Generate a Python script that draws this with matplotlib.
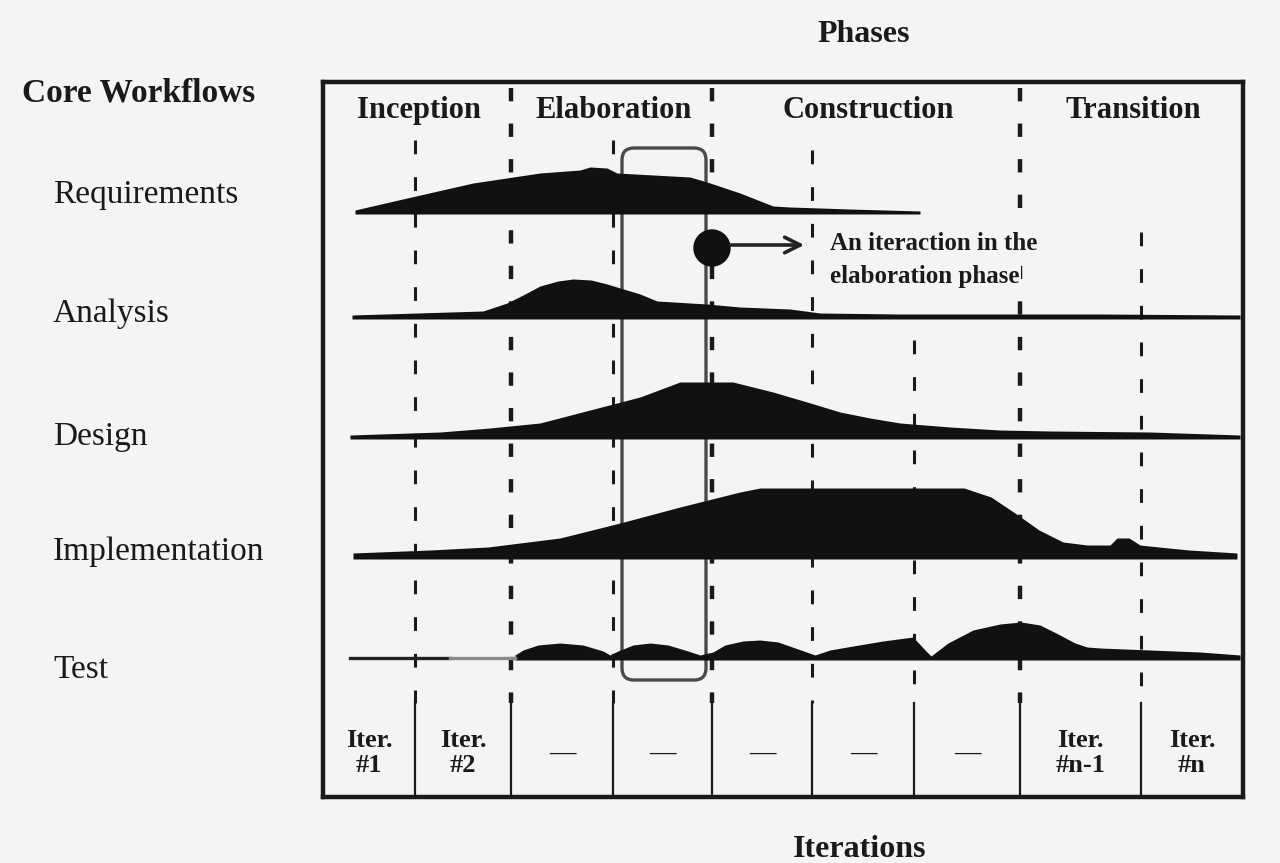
import numpy as np
import matplotlib.pyplot as plt
from matplotlib.patches import FancyBboxPatch, Circle

plt.rcParams['font.family'] = ['Liberation Serif', 'DejaVu Serif']

# 数据：阶段、工作流、迭代
phases = ['Inception', 'Elaboration', 'Construction', 'Transition']
workflows = ['Requirements', 'Analysis', 'Design', 'Implementation', 'Test']
iter_labels = ['Iter.\n#1', 'Iter.\n#2', '—', '—', '—', '—', '—', 'Iter.\n#n-1', 'Iter.\n#n']

# 时间轴上的迭代边界（时间轴单位），以及阶段边界在其中的序号
iter_edges = [0, 92, 188, 290, 389, 489, 591, 697, 818, 920]
phase_edge_idx = [0, 2, 4, 7, 9]

# 各工作流的工作量曲线（时间点，工作量）
req_t = [32, 84, 150, 217, 257, 267, 284, 294, 367, 384, 417, 450, 467, 527, 597]
req_h = [2, 14, 29, 39, 42, 45, 44, 39, 35, 30, 19, 6, 5, 3, 1]

ana_t = [29, 160, 184, 200, 217, 235, 250, 268, 284, 317, 334, 384, 417, 467, 497, 577, 677, 777, 917]
ana_h = [2, 6, 14, 22, 31, 36, 38, 37, 33, 23, 16, 13, 10, 8, 4, 3, 3, 3, 2]

des_t = [27, 117, 167, 217, 267, 317, 357, 410, 450, 484, 517, 547, 577, 627, 677, 727, 827, 917]
des_h = [2, 5, 9, 14, 27, 40, 55, 55, 45, 35, 25, 19, 14, 10, 7, 6, 5, 2]

imp_t = [30, 107, 165, 237, 297, 357, 417, 437, 641, 668, 692, 716, 740, 764, 787, 794, 806,
         817, 836, 866, 914]
imp_h = [4, 7, 10, 19, 34, 50, 65, 69, 69, 60, 44, 27, 15, 12, 12, 19, 19, 12, 10, 7, 4]

test_t = [192, 200, 215, 237, 260, 280, 287, 295, 310, 327, 345, 365, 377, 390, 402, 420, 437,
          455, 475, 492, 507, 530, 560, 590, 602, 608, 625, 650, 677, 698, 717, 735, 752, 764,
          777, 877, 917]
test_h = [3, 8, 13, 15, 13, 7, 3, 7, 13, 15, 13, 7, 3, 6, 13, 17, 18, 16, 9, 3, 8, 12, 17, 21,
          8, 2, 15, 28, 34, 36, 33, 24, 15, 11, 10, 6, 3]
test_lead_t = [27, 127, 192]

curves = [(req_t, req_h), (ana_t, ana_h), (des_t, des_h), (imp_t, imp_h), (test_t, test_h)]

# 布局（像素）
BG = '#f4f4f4'
INK = '#1a1a1a'
row_base = [130, 235, 355, 475, 576]
label_base = [203, 322, 445, 560, 678]
BOX_L, BOX_T, BOX_W, BOX_H = 323, 82, 920, 715
ROW_TOP = 621

fig = plt.figure(figsize=(12.8, 8.63), dpi=100, facecolor=BG)

# 背景画布，用于框外的文字
bg = fig.add_axes([0, 0, 1, 1])
bg.set_xlim(0, 1280)
bg.set_ylim(863, 0)
bg.axis('off')
bg.set_facecolor(BG)

bg.text(864, 42, 'Phases', fontsize=23, fontweight='bold', ha='center', va='baseline', color=INK)
bg.text(860, 857, 'Iterations', fontsize=23, fontweight='bold', ha='center', va='baseline', color=INK)
bg.text(22, 102, 'Core Workflows', fontsize=24, fontweight='bold', ha='left', va='baseline', color=INK)
for name, yb in zip(workflows, label_base):
    bg.text(53, yb, name, fontsize=24, ha='left', va='baseline', color=INK)

# 主框
ax = fig.add_axes([BOX_L / 1280, 1 - (BOX_T + BOX_H) / 863, BOX_W / 1280, BOX_H / 863])
ax.set_xlim(0, BOX_W)
ax.set_ylim(BOX_H, 0)
ax.set_facecolor(BG)
ax.set_xticks([])
ax.set_yticks([])
for s in ax.spines.values():
    s.set_linewidth(3.2)
    s.set_color(INK)

# 阶段标题
for i, name in enumerate(phases):
    a, b = iter_edges[phase_edge_idx[i]], iter_edges[phase_edge_idx[i + 1]]
    ax.text((a + b) / 2 + 2, 36, name, fontsize=22, fontweight='bold', ha='center', va='baseline', color=INK)

# 虚线：阶段边界（粗）和迭代边界（细）
inner = iter_edges[1:-1]
phase_x = [iter_edges[k] for k in phase_edge_idx[1:-1]]
line_top = {92: 58, 290: 58, 489: 68, 591: 258, 818: 150}
for x in inner:
    if x in phase_x:
        ln, = ax.plot([x, x], [6, ROW_TOP], color=INK, lw=3.2, zorder=2)
        ln.set_dashes((3, 5))
    else:
        ln, = ax.plot([x, x], [line_top[x], ROW_TOP], color=INK, lw=2.2, zorder=2)
        ln.set_dashes((4.5, 7.5))
    # 迭代行中的实线
    ax.plot([x, x], [ROW_TOP, BOX_H], color=INK, lw=1.6, zorder=2)

# 高亮的一个迭代
hl = FancyBboxPatch((299, 66), 84, 532, boxstyle='round,pad=0,rounding_size=12',
                    fill=False, ec='#4a4a4a', lw=2.4, zorder=3)
ax.add_patch(hl)

# 工作流曲线
for (t, h), base in zip(curves, row_base):
    t = np.array(t)
    h = np.array(h)
    ax.fill_between(t, base + 2, base - h, color='#111111', lw=0, zorder=4)

# 测试行前面的细线
ax.plot(test_lead_t[:2], [row_base[4]] * 2, color='#222222', lw=2.4, zorder=4)
ax.plot(test_lead_t[1:], [row_base[4]] * 2, color='#8a8a8a', lw=2.4, zorder=4)

# 标注：圆点 + 箭头 + 文字
ax.add_patch(Circle((389, 166), 18, color='#111111', zorder=5))
ax.annotate('', xy=(484, 163), xytext=(405, 163),
            arrowprops=dict(arrowstyle='->', lw=2.6, color='#222222', mutation_scale=28), zorder=5)
note_box = dict(boxstyle='square,pad=0.05', fc=BG, ec='none')
ax.text(507, 161, 'An iteraction in the', fontsize=18, fontweight='bold', ha='left', va='center',
        color=INK, bbox=note_box, zorder=6)
ax.text(507, 194, 'elaboration phase', fontsize=18, fontweight='bold', ha='left', va='center',
        color=INK, bbox=note_box, zorder=6)

# 迭代行标签
for i, lab in enumerate(iter_labels):
    cx = (iter_edges[i] + iter_edges[i + 1]) / 2
    ax.text(cx, 671, lab, fontsize=19, fontweight='bold', ha='center', va='center',
            linespacing=1.15, color=INK)

fig.savefig('out.png', dpi=100, facecolor=BG)
